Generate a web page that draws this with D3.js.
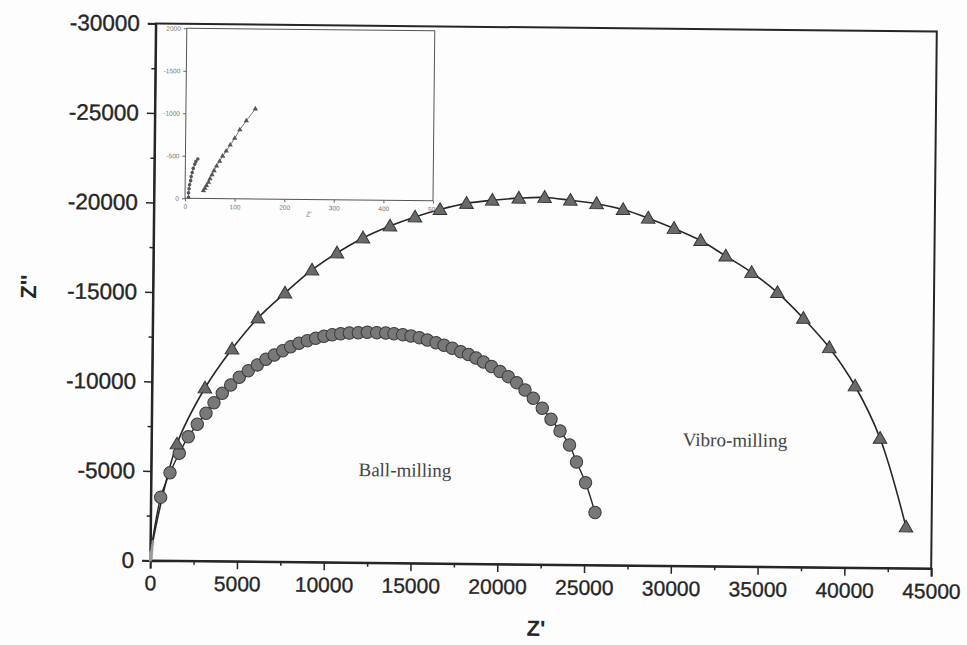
<!DOCTYPE html>
<html>
<head>
<meta charset="utf-8">
<script src="https://cdn.jsdelivr.net/npm/d3@7/dist/d3.min.js"></script>
<style>
  html, body { margin: 0; padding: 0; background: #fdfdfd; }
  svg { display: block; }
</style>
</head>
<body>
<svg id="chart" width="967" height="645"></svg>
<script>
// Nyquist plots of two milled samples: Z' (real) vs Z'' (imaginary), ohm.

// Ball-milling, low-frequency arc [Z', Z'']
const ballZre = [565, 1086, 1610, 2119, 2630, 3125, 3579, 4052, 4531, 5022, 5536, 6051, 6549, 7025,
  7506, 7965, 8441, 8918, 9400, 9877, 10355, 10838, 11333, 11852, 12370, 12911, 13431, 13909,
  14411, 14890, 15370, 15832, 16335, 16797, 17277, 17764, 18214, 18649, 19083, 19547, 20040,
  20521, 21008, 21491, 21973, 22497, 23007, 23533, 24089, 24502, 25036, 25599];
const ballZim = [-3530, -4910, -6000, -6932, -7631, -8250, -8847, -9377, -9845, -10281, -10655,
  -10978, -11302, -11547, -11792, -12020, -12215, -12366, -12504, -12621, -12715, -12776, -12820,
  -12842, -12870, -12853, -12842, -12807, -12757, -12689, -12599, -12475, -12329, -12189, -12026,
  -11840, -11689, -11497, -11278, -11032, -10757, -10472, -10142, -9739, -9279, -8726, -8117,
  -7468, -6692, -5746, -4595, -2935];

// Vibro-milling, low-frequency arc
const vibroZre = [1472, 3051, 4584, 6063, 7604, 9146, 10576, 12065, 13614, 15049, 16485, 18008,
  19493, 21019, 22505, 23993, 25504, 27035, 28487, 29979, 31519, 32975, 34477, 35976, 37484,
  38999, 40503, 41976, 43527];
const vibroZim = [-6517, -9663, -11858, -13605, -15017, -16318, -17283, -18136, -18822, -19339,
  -19768, -20129, -20318, -20451, -20505, -20364, -20189, -19875, -19409, -18849, -18188, -17337,
  -16436, -15328, -13907, -12280, -10155, -7247, -2307];

// High-frequency end of each sweep (shown enlarged in the inset)
const ballHfZre = [7, 7, 8, 9, 11, 12, 14, 16, 19, 21, 25];
const ballHfZim = [-12, -64, -112, -160, -208, -256, -304, -352, -400, -432, -464];
const vibroHfZre = [37, 40, 43, 47, 50, 54, 58, 63, 69, 75, 82, 90, 99, 109, 122, 140];
const vibroHfZim = [-92, -120, -152, -192, -232, -280, -328, -384, -440, -500, -560, -632, -712,
  -812, -920, -1060];

// Axis ticks and labels
const xTicks = [0, 5000, 10000, 15000, 20000, 25000, 30000, 35000, 40000, 45000];
const xTickLabels = ["0", "5000", "10000", "15000", "20000", "25000", "30000", "35000", "40000", "45000"];
const yTicks = [0, -5000, -10000, -15000, -20000, -25000, -30000];
const yTickLabels = ["0", "-5000", "-10000", "-15000", "-20000", "-25000", "-30000"];
const insetXTicks = [0, 100, 200, 300, 400, 500];
const insetXTickLabels = ["0", "100", "200", "300", "400", "500"];
const insetYTicks = [0, -500, -1000, -1500, -2000];
const insetYTickLabels = ["0", "-500", "-1000", "-1500", "2000"];

const seriesLabels = [
  { text: "Ball-milling", zre: 14624, zim: -5199 },
  { text: "Vibro-milling", zre: 33621, zim: -7067 }
];

const zip = (a, b) => a.map((v, i) => [v, b[i]]);
const ball = zip(ballHfZre, ballHfZim).concat(zip(ballZre, ballZim));
const vibro = zip(vibroHfZre, vibroHfZim).concat(zip(vibroZre, vibroZim));
const ballMain = zip(ballZre, ballZim);
const vibroMain = zip(vibroZre, vibroZim);
const ballHf = zip(ballHfZre, ballHfZim);
const vibroHf = zip(vibroHfZre, vibroHfZim);

const ink = "#262626";
const svg = d3.select("#chart");

// The whole figure sits slightly tilted on the page
const g = svg.append("g").attr("transform", "rotate(0.6, 543.5, 296)");

const box = { left: 153, right: 934, top: 27.5, bottom: 564.5 };
const x = d3.scaleLinear().domain([0, 45000]).range([box.left, box.right]);
const y = d3.scaleLinear().domain([0, -30000]).range([box.bottom, box.top]);

// frame
g.append("rect")
  .attr("x", box.left).attr("y", box.top)
  .attr("width", box.right - box.left).attr("height", box.bottom - box.top)
  .attr("fill", "none").attr("stroke", ink).attr("stroke-width", 2);

// minor ticks
const xMinor = d3.range(2500, 45000, 5000);
const yMinor = d3.range(-2500, -30000, -5000);
g.append("g").attr("transform", `translate(0,${box.bottom})`)
  .call(d3.axisBottom(x).tickValues(xMinor).tickSize(4).tickFormat(""))
  .call(a => a.select(".domain").remove())
  .call(a => a.selectAll("line").attr("stroke", ink).attr("stroke-width", 1.5));
g.append("g").attr("transform", `translate(${box.left},0)`)
  .call(d3.axisLeft(y).tickValues(yMinor).tickSize(4).tickFormat(""))
  .call(a => a.select(".domain").remove())
  .call(a => a.selectAll("line").attr("stroke", ink).attr("stroke-width", 1.5));

// major axes
const axFont = "'Liberation Sans', Arial, sans-serif";
g.append("g").attr("transform", `translate(0,${box.bottom})`)
  .call(d3.axisBottom(x).tickValues(xTicks).tickSize(8).tickPadding(7)
    .tickFormat((d, i) => xTickLabels[i]))
  .call(a => a.select(".domain").attr("stroke", ink).attr("stroke-width", 2))
  .call(a => a.selectAll("line").attr("stroke", ink).attr("stroke-width", 1.5))
  .call(a => a.selectAll("text").attr("fill", ink).attr("stroke", ink).attr("stroke-width", 0.35)
    .style("font-family", axFont).style("font-size", "21px"));
g.append("g").attr("transform", `translate(${box.left},0)`)
  .call(d3.axisLeft(y).tickValues(yTicks).tickSize(8).tickPadding(8)
    .tickFormat((d, i) => yTickLabels[i]))
  .call(a => a.select(".domain").attr("stroke", ink).attr("stroke-width", 2))
  .call(a => a.selectAll("line").attr("stroke", ink).attr("stroke-width", 1.5))
  .call(a => a.selectAll("text").attr("fill", ink).attr("stroke", ink).attr("stroke-width", 0.35)
    .style("font-family", axFont).style("font-size", "22.5px"));

// axis titles
g.append("text")
  .attr("x", (box.left + box.right) / 2 - 4).attr("y", 636)
  .attr("text-anchor", "middle")
  .attr("fill", ink).style("font-family", axFont).style("font-size", "22px").style("font-weight", "bold")
  .text("Z'");
g.append("text")
  .attr("transform", "translate(36,292) rotate(-90)")
  .attr("text-anchor", "middle")
  .attr("fill", ink).style("font-family", axFont).style("font-size", "22px").style("font-weight", "bold")
  .text("Z''");

// series lines
const line = d3.line().x(d => x(d[0])).y(d => y(d[1])).curve(d3.curveCatmullRom);
g.append("path").datum(ball).attr("d", line)
  .attr("fill", "none").attr("stroke", ink).attr("stroke-width", 1.4);
g.append("path").datum(vibro).attr("d", line)
  .attr("fill", "none").attr("stroke", ink).attr("stroke-width", 1.6);

// high-frequency points at full scale (they collapse near the origin)
g.append("g").selectAll("circle").data(ballHf).join("circle")
  .attr("cx", d => x(d[0])).attr("cy", d => y(d[1])).attr("r", 1.5)
  .attr("fill", "#9a9a9a");
g.append("g").selectAll("path").data(vibroHf).join("path")
  .attr("d", d3.symbol(d3.symbolTriangle, 6))
  .attr("transform", d => `translate(${x(d[0])},${y(d[1])})`)
  .attr("fill", "#9a9a9a");

// markers
g.append("g").selectAll("circle").data(ballMain).join("circle")
  .attr("cx", d => x(d[0])).attr("cy", d => y(d[1])).attr("r", 6.2)
  .attr("fill", "#787878").attr("stroke", "#3a3a3a").attr("stroke-width", 1);
g.append("g").selectAll("path").data(vibroMain).join("path")
  .attr("d", d3.symbol(d3.symbolTriangle, 80))
  .attr("transform", d => `translate(${x(d[0])},${y(d[1]) + 1})`)
  .attr("fill", "#6a6a6a").attr("stroke", "#333").attr("stroke-width", 1);

// series names
g.append("g").selectAll("text").data(seriesLabels).join("text")
  .attr("x", d => x(d.zre)).attr("y", d => y(d.zim))
  .attr("text-anchor", "middle").attr("dominant-baseline", "central")
  .attr("fill", "#444")
  .style("font-family", "'Liberation Serif', 'Times New Roman', serif").style("font-size", "19px")
  .text(d => d.text);

// ---- inset: high-frequency region ----
const ib = { left: 184, right: 432, top: 32, bottom: 202 };
const xi = d3.scaleLinear().domain([0, 500]).range([ib.left, ib.right]);
const yi = d3.scaleLinear().domain([0, -2000]).range([ib.bottom, ib.top]);
const inset = g.append("g");
inset.append("rect")
  .attr("x", ib.left).attr("y", ib.top)
  .attr("width", ib.right - ib.left).attr("height", ib.bottom - ib.top)
  .attr("fill", "#fdfdfd").attr("stroke", "#555").attr("stroke-width", 1);
const insetFont = "'Liberation Sans', Arial, sans-serif";
inset.append("g").attr("transform", `translate(0,${ib.bottom})`)
  .call(d3.axisBottom(xi).tickValues(insetXTicks).tickSize(3).tickPadding(3)
    .tickFormat((d, i) => insetXTickLabels[i]))
  .call(a => a.select(".domain").remove())
  .call(a => a.selectAll("line").attr("stroke", "#666"))
  .call(a => a.selectAll("text").attr("fill", "#777")
    .style("font-family", insetFont).style("font-size", "6.5px"));
inset.append("g").attr("transform", `translate(${ib.left},0)`)
  .call(d3.axisLeft(yi).tickValues(insetYTicks).tickSize(3).tickPadding(3)
    .tickFormat((d, i) => insetYTickLabels[i]))
  .call(a => a.select(".domain").remove())
  .call(a => a.selectAll("line").attr("stroke", "#666"))
  .call(a => a.selectAll("text").attr("fill", "#777")
    .style("font-family", insetFont).style("font-size", "6.5px"));
inset.append("text")
  .attr("x", (ib.left + ib.right) / 2).attr("y", 219)
  .attr("text-anchor", "middle").attr("fill", "#777")
  .style("font-family", insetFont).style("font-size", "7px")
  .text("Z'");

const iline = d3.line().x(d => xi(d[0])).y(d => yi(d[1]));
inset.append("path").datum(ballHf).attr("d", iline)
  .attr("fill", "none").attr("stroke", "#555").attr("stroke-width", 0.8);
inset.append("path").datum(vibroHf).attr("d", iline)
  .attr("fill", "none").attr("stroke", "#555").attr("stroke-width", 0.8);
inset.append("g").selectAll("circle").data(ballHf).join("circle")
  .attr("cx", d => xi(d[0])).attr("cy", d => yi(d[1])).attr("r", 1.8)
  .attr("fill", "#555");
inset.append("g").selectAll("path").data(vibroHf).join("path")
  .attr("d", d3.symbol(d3.symbolTriangle, 12))
  .attr("transform", d => `translate(${xi(d[0])},${yi(d[1])})`)
  .attr("fill", "#555");
</script>
</body>
</html>
